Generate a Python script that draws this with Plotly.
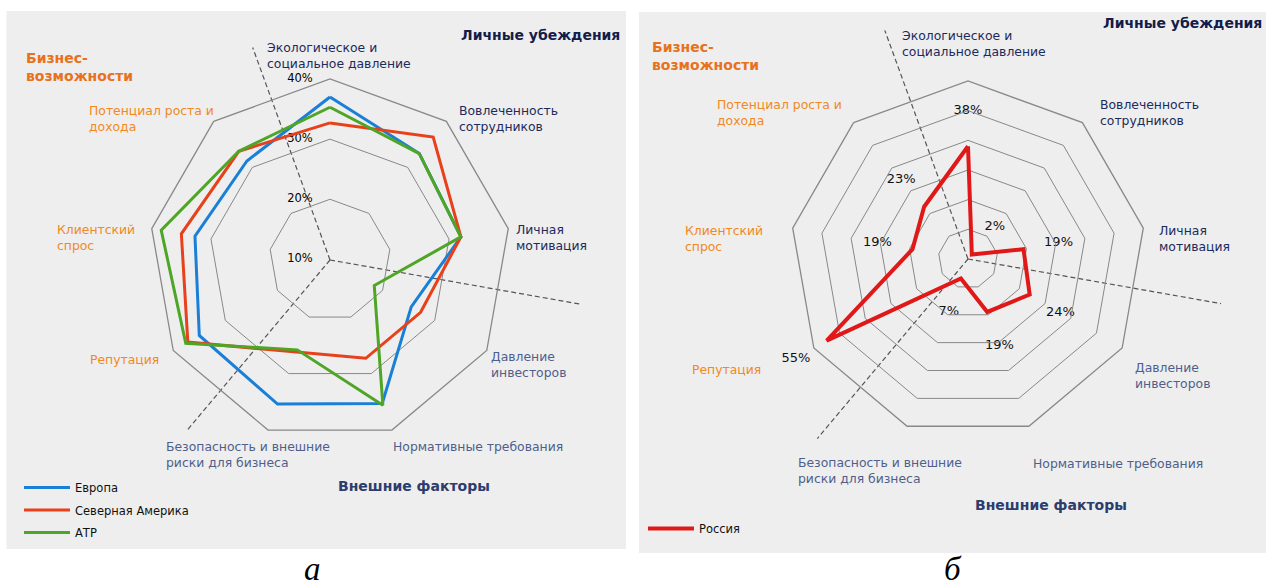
import plotly.graph_objects as go

W, H = 1269, 588
FONT = "DejaVu Sans"

# ---------------- data ----------------
categories = [
    "Экологическое и социальное давление",
    "Вовлеченность сотрудников",
    "Личная мотивация",
    "Давление инвесторов",
    "Нормативные требования",
    "Безопасность и внешние риски для бизнеса",
    "Репутация",
    "Клиентский спрос",
    "Потенциал роста и дохода",
]
category_labels = [
    "Экологическое и<br>социальное давление",
    "Вовлеченность<br>сотрудников",
    "Личная<br>мотивация",
    "Давление<br>инвесторов",
    "Нормативные требования",
    "Безопасность и внешние<br>риски для бизнеса",
    "Репутация",
    "Клиентский<br>спрос",
    "Потенциал роста и<br>дохода",
]
category_group = ["personal", "personal", "personal",
                  "external", "external", "external",
                  "business", "business", "business"]

europe = [37.0, 33.0, 32.0, 25.5, 35.3, 35.4, 35.0, 32.7, 31.4]
north_america = [32.7, 36.6, 32.0, 27.3, 27.3, 26.2, 37.2, 35.0, 33.5]
apac = [35.3, 33.0, 32.0, 18.4, 35.6, 25.8, 37.6, 38.4, 33.5]
russia = [38, 2, 19, 24, 19, 7, 55, 19, 23]

left_ticks = [10, 20, 30, 40]
left_tick_text = ["10%", "20%", "30%", "40%"]
russia_text = [f"{v}%" for v in russia]

# sector dividers (degrees, clockwise from top) and their lengths in axis units
divider_theta = [-20, 100, 220]
left_divider_len = [47.5, 52.3, 46.7]
right_divider_len = [82, 86.6, 79]

group_titles = ["Бизнес-<br>возможности", "Личные убеждения", "Внешние факторы"]
series_names = ["Европа", "Северная Америка", "АТР"]
russia_name = "Россия"
panel_letters = ["а", "б"]

# ---------------- style ----------------
GRID = "#888888"
PANEL = "#eeeeee"
C_EU = "#1a7fd6"
C_NA = "#e8401a"
C_AP = "#4ea526"
C_RU = "#e01818"
group_color = {"personal": "#1c2a5c", "external": "#4f5f8c", "business": "#f0891e"}
title_color = ["#e8721c", "#141c4a", "#2c3c6c"]

LEFT_MIN = 9.9       # radial axis start (centre) of the left chart
LEFT_MAX = 40        # outer ring of the left chart
LEFT_EXT = 53        # extended range of the overlay used for dividers
RIGHT_MAX = 60
RIGHT_EXT = 87


def px_x(x):
    return x / W


def px_y(y):
    return 1 - y / H


def closed(v):
    return list(v) + [v[0]]


cats_closed = categories + [categories[0]]
cat_angles = [i * 360 / len(categories) for i in range(len(categories))]

fig = go.Figure()

# ---- dashed dividers (linear angular overlays with extended range) ----
for t, L in zip(divider_theta, left_divider_len):
    fig.add_trace(go.Scatterpolar(
        r=[LEFT_MIN, L], theta=[t, t], mode="lines", subplot="polar",
        line=dict(color="#555555", width=1.2, dash="5px,3px"),
        showlegend=False, hoverinfo="skip"))
for t, L in zip(divider_theta, right_divider_len):
    fig.add_trace(go.Scatterpolar(
        r=[0, L], theta=[t, t], mode="lines", subplot="polar3",
        line=dict(color="#555555", width=1.2, dash="5px,3px"),
        showlegend=False, hoverinfo="skip"))

# ---- left chart series ----
for name, vals, col in zip(series_names, [europe, north_america, apac], [C_EU, C_NA, C_AP]):
    fig.add_trace(go.Scatterpolar(
        r=closed(vals), theta=cats_closed, mode="lines", name=name,
        line=dict(color=col, width=3), subplot="polar2",
        legend="legend", legendgroup=name))

# radial tick labels (on the top spoke)
fig.add_trace(go.Scatterpolar(
    r=left_ticks, theta=[0] * len(left_ticks), mode="markers+text",
    text=left_tick_text, textposition="middle left",
    marker=dict(size=26, opacity=0),
    textfont=dict(family=FONT, size=11.5, color="#000000"),
    subplot="polar", showlegend=False, cliponaxis=False, hoverinfo="skip"))

# ---- right chart ----
fig.add_trace(go.Scatterpolar(
    r=closed(russia), theta=cats_closed, mode="lines", name=russia_name,
    line=dict(color=C_RU, width=4), subplot="polar4",
    legend="legend2", legendgroup=russia_name))
fig.add_trace(go.Scatterpolar(
    r=[v + 12 for v in russia], theta=cat_angles, mode="text", text=russia_text,
    textfont=dict(family=FONT, size=13, color="#111111"),
    subplot="polar3", showlegend=False, cliponaxis=False, hoverinfo="skip"))


def cat_polar(domx, domy, rng, grid_vals):
    return dict(
        domain=dict(x=domx, y=domy), bgcolor="rgba(0,0,0,0)", gridshape="linear",
        angularaxis=dict(type="category", categoryorder="array", categoryarray=categories,
                         direction="clockwise", rotation=90, showgrid=False,
                         showticklabels=False, ticks="", showline=True,
                         linecolor=GRID, linewidth=1.3),
        radialaxis=dict(range=rng, tickvals=grid_vals, showgrid=True, gridcolor=GRID,
                        gridwidth=1.3, showline=False, showticklabels=False, ticks=""),
    )


def lin_polar(domx, domy, rng):
    return dict(
        domain=dict(x=domx, y=domy), bgcolor="rgba(0,0,0,0)",
        angularaxis=dict(thetaunit="degrees", direction="clockwise", rotation=90,
                         visible=False),
        radialaxis=dict(range=rng, visible=False),
    )


def domain_for(cx, cy, radius):
    return [px_x(cx - radius), px_x(cx + radius)], [px_y(cy + radius), px_y(cy - radius)]


# left chart: centre (330, 260), outer ring radius 181 px
L_cx, L_cy, L_R = 330, 260, 181
L_scale = L_R / (LEFT_MAX - LEFT_MIN)
Lx, Ly = domain_for(L_cx, L_cy, L_R)
LXx, LXy = domain_for(L_cx, L_cy, L_scale * (LEFT_EXT - LEFT_MIN))

# right chart: centre (968, 259), outer ring radius 178 px
R_cx, R_cy, R_R = 968, 259, 178
R_scale = R_R / RIGHT_MAX
Rx, Ry = domain_for(R_cx, R_cy, R_R)
RXx, RXy = domain_for(R_cx, R_cy, R_scale * RIGHT_EXT)

annotations = []

# category labels (left / right)
left_pos = [(265, 55), (457, 119), (514, 237), (489, 364.5), (391, 446),
            (164, 454), (87.5, 359), (55, 237), (87, 119)]
right_pos = [(900, 43), (1098, 112), (1157, 238), (1133, 375), (1031, 463),
             (796, 470), (690, 369), (683, 238), (715, 112)]
for pos in (left_pos, right_pos):
    for (x, y), txt, g in zip(pos, category_labels, category_group):
        annotations.append(dict(
            x=px_x(x), y=px_y(y), xref="paper", yref="paper", text=txt,
            showarrow=False, xanchor="left", yanchor="middle", align="left",
            font=dict(family=FONT, size=12.4, color=group_color[g])))

# group titles
left_title_pos = [(24, 67), (459, 35), (336, 486)]
right_title_pos = [(650, 56), (1101, 23), (973, 505)]
for pos in (left_title_pos, right_title_pos):
    for (x, y), txt, col in zip(pos, group_titles, title_color):
        annotations.append(dict(
            x=px_x(x), y=px_y(y), xref="paper", yref="paper", text="<b>" + txt + "</b>",
            showarrow=False, xanchor="left", yanchor="middle", align="left",
            font=dict(family=FONT, size=14, color=col)))

# panel letters
for (x, y), txt in zip([(312, 569), (953, 569)], panel_letters):
    annotations.append(dict(
        x=px_x(x), y=px_y(y), xref="paper", yref="paper", text="<i>" + txt + "</i>",
        showarrow=False, xanchor="center", yanchor="middle",
        font=dict(family="Liberation Serif", size=33, color="#000000")))

shapes = [
    dict(type="rect", xref="paper", yref="paper", x0=px_x(6.5), x1=px_x(626),
         y0=px_y(549), y1=px_y(11), fillcolor=PANEL, line=dict(width=0), layer="below"),
    dict(type="rect", xref="paper", yref="paper", x0=px_x(639), x1=px_x(1266),
         y0=px_y(553), y1=px_y(12), fillcolor=PANEL, line=dict(width=0), layer="below"),
]

fig.update_layout(
    width=W, height=H, margin=dict(l=0, r=0, t=0, b=0),
    paper_bgcolor="white", plot_bgcolor="white",
    font=dict(family=FONT),
    polar=lin_polar(LXx, LXy, [LEFT_MIN, LEFT_EXT]),
    polar2=cat_polar(Lx, Ly, [LEFT_MIN, LEFT_MAX], [20, 30, 40]),
    polar3=lin_polar(RXx, RXy, [0, RIGHT_EXT]),
    polar4=cat_polar(Rx, Ry, [0, RIGHT_MAX], [10, 20, 30, 40, 50, 60]),
    legend=dict(x=px_x(19), y=px_y(473), xanchor="left", yanchor="top",
                bgcolor="rgba(0,0,0,0)", font=dict(family=FONT, size=11.5, color="#111111"),
                tracegroupgap=3.5, itemwidth=46, traceorder="grouped"),
    legend2=dict(x=px_x(643), y=px_y(514), xanchor="left", yanchor="top",
                 bgcolor="rgba(0,0,0,0)", font=dict(family=FONT, size=11.5, color="#111111"),
                 itemwidth=46),
    annotations=annotations,
    shapes=shapes,
    showlegend=True,
)

fig.write_html("out.html", config={"displayModeBar": False},
               post_script="document.body.style.margin='0px';")
